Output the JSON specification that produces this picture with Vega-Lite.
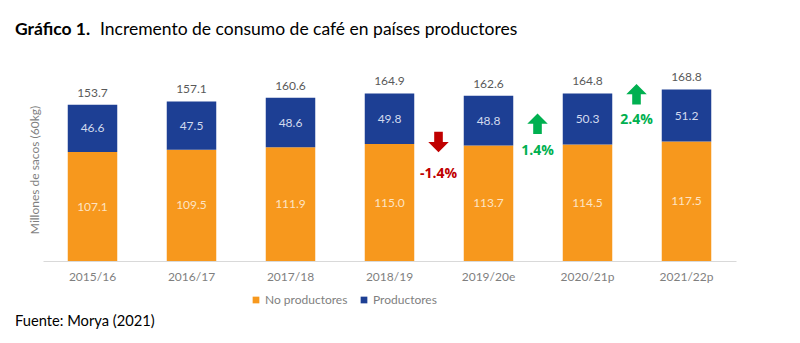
{
  "$schema": "https://vega.github.io/schema/vega-lite/v6.json",
  "background": "white",
  "padding": {"left": 15, "top": 20, "right": 5, "bottom": 5},
  "config": {
    "view": {"stroke": null},
    "font": "Lato",
    "axisX": {"labelColor": "#7F7F7F", "labelFontSize": 12, "labelFont": "Lato", "ticks": false, "domainColor": "#D9D9D9", "domainWidth": 1, "labelPadding": 10, "grid": false, "labelAngle": 0},
    "axisY": {"labels": false, "ticks": false, "domain": false, "grid": false, "titleColor": "#7F7F7F", "titleFontSize": 12, "titleFont": "Lato", "titleFontWeight": "normal", "titlePadding": 2}
  },
  "title": {
    "text": "Gráfico 1.",
    "anchor": "start",
    "frame": "group",
    "dx": -28,
    "font": "Lato",
    "fontSize": 17.5,
    "fontWeight": "bold",
    "color": "#000000",
    "offset": -18
  },
  "datasets": {
    "bars": [
      {"year": "2015/16", "grupo": "No productores", "valor": 107.1},
      {"year": "2015/16", "grupo": "Productores", "valor": 46.6},
      {"year": "2016/17", "grupo": "No productores", "valor": 109.5},
      {"year": "2016/17", "grupo": "Productores", "valor": 47.5},
      {"year": "2017/18", "grupo": "No productores", "valor": 111.9},
      {"year": "2017/18", "grupo": "Productores", "valor": 48.6},
      {"year": "2018/19", "grupo": "No productores", "valor": 115.0},
      {"year": "2018/19", "grupo": "Productores", "valor": 49.8},
      {"year": "2019/20e", "grupo": "No productores", "valor": 113.7},
      {"year": "2019/20e", "grupo": "Productores", "valor": 48.8},
      {"year": "2020/21p", "grupo": "No productores", "valor": 114.5},
      {"year": "2020/21p", "grupo": "Productores", "valor": 50.3},
      {"year": "2021/22p", "grupo": "No productores", "valor": 117.5},
      {"year": "2021/22p", "grupo": "Productores", "valor": 51.2}
    ],
    "totals": [
      {"year": "2015/16", "total": 153.7},
      {"year": "2016/17", "total": 157.1},
      {"year": "2017/18", "total": 160.6},
      {"year": "2018/19", "total": 164.9},
      {"year": "2019/20e", "total": 162.6},
      {"year": "2020/21p", "total": 164.8},
      {"year": "2021/22p", "total": 168.8}
    ],
    "notes": [
      {"year": "2018/19", "dir": "down", "arrow": 117, "label": 86, "pct": "-1.4%"},
      {"year": "2019/20e", "dir": "up", "arrow": 135, "label": 108, "pct": "1.4%"},
      {"year": "2020/21p", "dir": "up", "arrow": 164, "label": 139, "pct": "2.4%"}
    ]
  },
  "vconcat": [
    {
      "title": {"text": "Incremento de consumo de café en países productores", "anchor": "start", "frame": "group", "dx": 57, "font": "Lato", "fontSize": 17.5, "fontWeight": "normal", "color": "#000000", "offset": 33},
      "vconcat": [
        {
          "width": 693,
          "height": 183,
          "title": {"text": "Fuente: Morya (2021)", "orient": "bottom", "anchor": "start", "frame": "group", "dx": -28, "font": "Lato", "fontSize": 14.7, "fontWeight": "normal", "color": "#000000", "offset": 32},
          "layer": [
            {
              "data": {"name": "bars"},
              "mark": {"type": "bar"},
              "encoding": {
                "x": {"field": "year", "type": "ordinal", "sort": ["2015/16", "2016/17", "2017/18", "2018/19", "2019/20e", "2020/21p", "2021/22p"], "title": null, "scale": {"paddingInner": 0.5, "paddingOuter": 0.25}},
                "y": {"field": "valor", "type": "quantitative", "stack": "zero", "title": "Millones de sacos (60kg)", "scale": {"domain": [0, 180], "nice": false}},
                "color": {"field": "grupo", "type": "nominal", "scale": {"domain": ["No productores", "Productores"], "range": ["#F7981D", "#1D3F94"]},
                  "legend": {"title": null, "orient": "none", "legendX": 207, "legendY": 216, "direction": "horizontal", "symbolType": "square", "symbolSize": 45, "symbolStrokeWidth": 0, "labelFont": "Lato", "labelFontSize": 12, "labelColor": "#7F7F7F", "columnPadding": 10, "labelOffset": 3}},
                "order": {"field": "grupo", "sort": "ascending"}
              }
            },
            {
              "data": {"name": "totals"},
              "mark": {"type": "text", "dy": -12, "fontSize": 12, "font": "Lato", "color": "#595959"},
              "encoding": {
                "x": {"field": "year", "type": "ordinal", "sort": ["2015/16", "2016/17", "2017/18", "2018/19", "2019/20e", "2020/21p", "2021/22p"], "title": null},
                "y": {"field": "total", "type": "quantitative", "title": "Millones de sacos (60kg)"},
                "text": {"field": "total", "type": "quantitative", "format": ".1f"}
              }
            },
            {
              "data": {"name": "bars"},
              "transform": [
                {"stack": "valor", "groupby": ["year"], "sort": [{"field": "grupo", "order": "ascending"}], "as": ["v0", "v1"]},
                {"calculate": "(datum.v0 + datum.v1) / 2", "as": "mid"}
              ],
              "mark": {"type": "text", "fontSize": 12, "font": "Lato"},
              "encoding": {
                "x": {"field": "year", "type": "ordinal", "sort": ["2015/16", "2016/17", "2017/18", "2018/19", "2019/20e", "2020/21p", "2021/22p"], "title": null},
                "y": {"field": "mid", "type": "quantitative", "title": "Millones de sacos (60kg)"},
                "text": {"field": "valor", "type": "quantitative", "format": ".1f"},
                "color": {"condition": {"test": "datum.grupo === 'Productores'", "value": "#D3DAEE"}, "value": "#FDE4C4"}
              }
            },
            {
              "data": {"name": "notes"},
              "mark": {"type": "point", "filled": true, "size": 420, "opacity": 1, "strokeWidth": 0},
              "encoding": {
                "x": {"field": "year", "type": "ordinal", "sort": ["2015/16", "2016/17", "2017/18", "2018/19", "2019/20e", "2020/21p", "2021/22p"], "title": null, "bandPosition": 1.49},
                "y": {"field": "arrow", "type": "quantitative", "title": "Millones de sacos (60kg)"},
                "shape": {"condition": {"test": "datum.dir === 'down'", "value": "M0,1L1,0L0.42,0L0.42,-1L-0.42,-1L-0.42,0L-1,0Z"}, "value": "M0,-1L1,0L0.42,0L0.42,1L-0.42,1L-0.42,0L-1,0Z"},
                "color": {"condition": {"test": "datum.dir === 'down'", "value": "#C00000"}, "value": "#00B050"}
              }
            },
            {
              "data": {"name": "notes"},
              "mark": {"type": "text", "fontSize": 14, "fontWeight": "bold", "font": "Open Sans"},
              "encoding": {
                "x": {"field": "year", "type": "ordinal", "sort": ["2015/16", "2016/17", "2017/18", "2018/19", "2019/20e", "2020/21p", "2021/22p"], "title": null, "bandPosition": 1.49},
                "y": {"field": "label", "type": "quantitative", "title": "Millones de sacos (60kg)"},
                "text": {"field": "pct", "type": "nominal"},
                "color": {"condition": {"test": "datum.dir === 'down'", "value": "#C00000"}, "value": "#00B050"}
              }
            }
          ]
        }
      ]
    }
  ]
}
